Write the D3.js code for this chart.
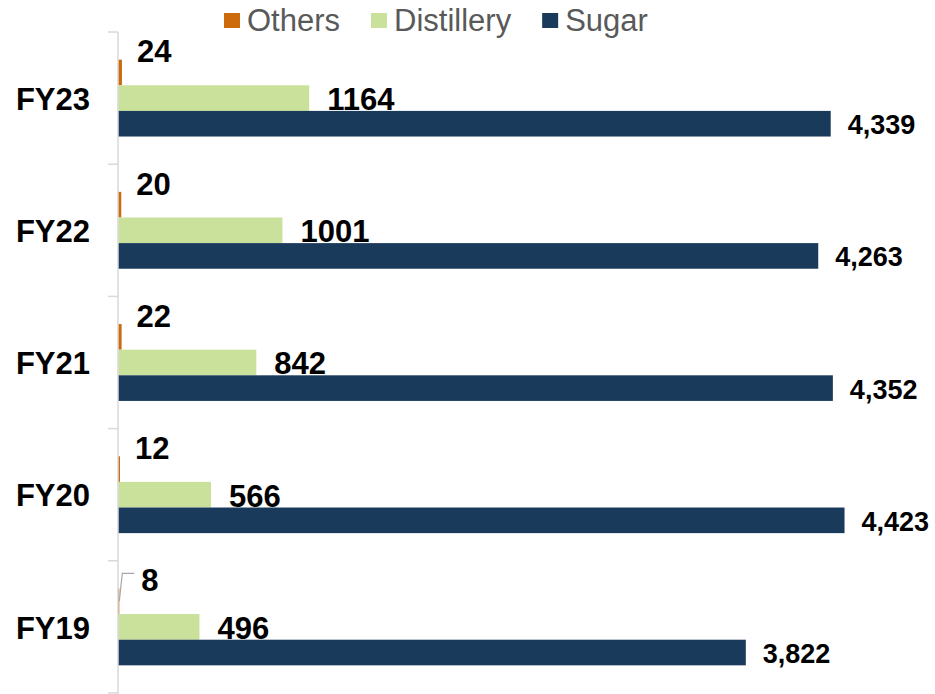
<!DOCTYPE html>
<html>
<head>
<meta charset="utf-8">
<script src="https://cdn.jsdelivr.net/npm/d3@7.9.0/dist/d3.min.js"></script>
<style>
  html, body { margin: 0; padding: 0; background: #fff; }
  svg { display: block; font-family: "Liberation Sans", Arial, sans-serif; }
</style>
</head>
<body>
<svg id="chart" width="935" height="694"></svg>
<script>
const categories = ["FY23", "FY22", "FY21", "FY20", "FY19"];
const series = ["Others", "Distillery", "Sugar"];
const others = [24, 20, 22, 12, 8];
const distillery = [1164, 1001, 842, 566, 496];
const sugar = [4339, 4263, 4352, 4423, 3822];
const colors = ["#cc6a0c", "#c9e19a", "#1a3a5c"];

const values = { Others: others, Distillery: distillery, Sugar: sugar };

const svg = d3.select("#chart");
const plotLeft = 118;
const plotTop = 32;
const plotBottom = 693;

const x = d3.scaleLinear().domain([0, 5000]).range([plotLeft, plotLeft + 5000 * 0.16426]);

const y0 = d3.scaleBand().domain(categories).range([plotTop, plotBottom]).padding(0);

// three bars stacked inside each category band, centred
const y1 = d3.scaleBand()
  .domain(series)
  .range([0, y0.bandwidth()])
  .paddingInner(0)
  .paddingOuter(1.08);

const color = d3.scaleOrdinal().domain(series).range(colors);

const rows = categories.map((c, i) => ({
  cat: c,
  items: series.map((s) => ({ cat: c, key: s, value: values[s][i] })),
}));

// bars
const groups = svg.selectAll("g.cat")
  .data(rows)
  .join("g")
  .attr("class", "cat")
  .attr("transform", (d) => `translate(0,${y0(d.cat)})`);

groups.selectAll("rect")
  .data((d) => d.items)
  .join("rect")
  .attr("x", x(0))
  .attr("y", (d) => y1(d.key))
  .attr("width", (d) => x(d.value) - x(0))
  .attr("height", y1.bandwidth())
  .attr("fill", (d) => color(d.key));

// value labels
const fmtSugar = d3.format(",");
const fmtPlain = d3.format("d");

groups.selectAll("text.val")
  .data((d) => d.items)
  .join("text")
  .attr("class", "val")
  .attr("x", (d) => {
    if (d.key === "Others") return x(d.value) + (d.value < 10 ? 22 : 15);
    if (d.key === "Distillery") return x(d.value) + 18;
    return x(d.value) + 17;
  })
  .attr("y", (d) => y1(d.key) + y1.bandwidth() / 2 + (d.key === "Others" ? -21 : 1))
  .attr("dy", "0.35em")
  .attr("font-weight", "bold")
  .attr("font-size", (d) => (d.key === "Sugar" ? 27 : 31))
  .attr("fill", "#000")
  .text((d) => (d.key === "Sugar" ? fmtSugar(d.value) : fmtPlain(d.value)));

// leader line for the small label that was pulled away from its bar
groups.filter((d) => d.items[0].value < 10)
  .append("polyline")
  .attr("points", (d) => {
    const it = d.items[0];
    const cy = y1(it.key) + y1.bandwidth() / 2;
    const x0 = x(it.value);
    return `${x0},${cy} ${x0 + 3},${cy - 28} ${x0 + 15},${cy - 28}`;
  })
  .attr("fill", "none")
  .attr("stroke", "#a6a6a6")
  .attr("stroke-width", 1.2);

// category axis
const axis = svg.append("g")
  .attr("transform", `translate(${plotLeft},0)`)
  .call(d3.axisLeft(y0).tickSize(0).tickPadding(28));
axis.select(".domain").remove();
axis.selectAll("text")
  .attr("font-family", "'Liberation Sans', Arial, sans-serif")
  .attr("font-size", 31)
  .attr("font-weight", "bold")
  .attr("fill", "#000")
  .attr("dy", "0.38em");

svg.append("line")
  .attr("x1", plotLeft).attr("x2", plotLeft)
  .attr("y1", plotTop).attr("y2", 694)
  .attr("stroke", "#d9d9d9")
  .attr("stroke-width", 1.5);

const bounds = categories.map((c) => y0(c)).concat([plotBottom]);
svg.selectAll("line.tick")
  .data(bounds)
  .join("line")
  .attr("class", "tick")
  .attr("x1", plotLeft - 10).attr("x2", plotLeft)
  .attr("y1", (d) => d).attr("y2", (d) => d)
  .attr("stroke", "#d9d9d9")
  .attr("stroke-width", 1.5);

// legend
const legend = svg.append("g").attr("transform", "translate(224,0)");
let lx = 0;
series.forEach((s) => {
  const g = legend.append("g").attr("transform", `translate(${lx},0)`);
  g.append("rect")
    .attr("x", 0).attr("y", 13)
    .attr("width", 16).attr("height", 15)
    .attr("fill", color(s));
  const t = g.append("text")
    .attr("x", 23).attr("y", 31)
    .attr("font-size", 31)
    .attr("fill", "#595959")
    .text(s);
  lx += 23 + t.node().getComputedTextLength() + 31;
});
</script>
</body>
</html>
